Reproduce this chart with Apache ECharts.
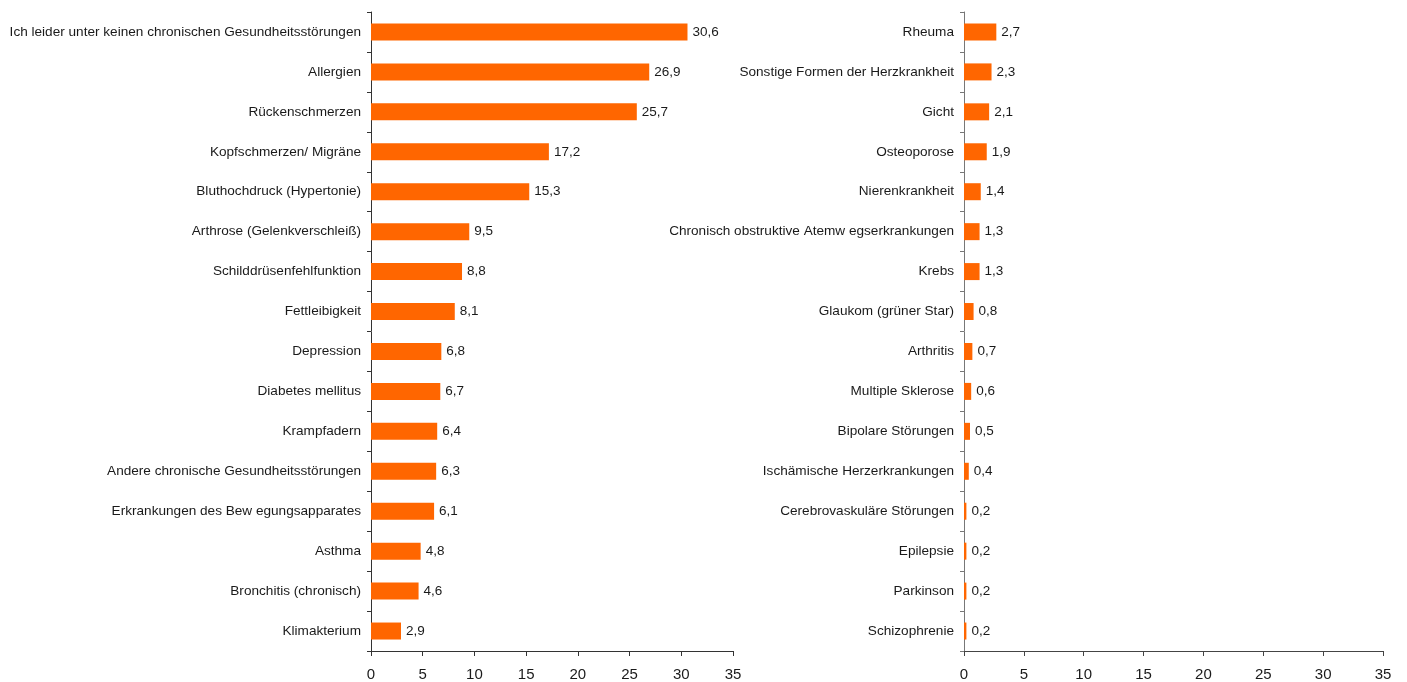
<!DOCTYPE html>
<html>
<head>
<meta charset="utf-8">
<script src="https://cdn.jsdelivr.net/npm/echarts@6/dist/echarts.min.js"></script>
<style>
    html, body { margin: 0; padding: 0; background: #fff; }
    #chart { width: 1407px; height: 682px; }
</style>
</head>
<body>
<div id="chart"></div>
<script>
    // linke Hälfte
    var leftNames = [
        'Ich leider unter keinen chronischen Gesundheitsstörungen',
        'Allergien',
        'Rückenschmerzen',
        'Kopfschmerzen/ Migräne',
        'Bluthochdruck (Hypertonie)',
        'Arthrose (Gelenkverschleiß)',
        'Schilddrüsenfehlfunktion',
        'Fettleibigkeit',
        'Depression',
        'Diabetes mellitus',
        'Krampfadern',
        'Andere chronische Gesundheitsstörungen',
        'Erkrankungen des Bew egungsapparates',
        'Asthma',
        'Bronchitis (chronisch)',
        'Klimakterium'
    ];
    var leftValues = [30.6, 26.9, 25.7, 17.2, 15.3, 9.5, 8.8, 8.1, 6.8, 6.7, 6.4, 6.3, 6.1, 4.8, 4.6, 2.9];

    // rechte Hälfte
    var rightNames = [
        'Rheuma',
        'Sonstige Formen der Herzkrankheit',
        'Gicht',
        'Osteoporose',
        'Nierenkrankheit',
        'Chronisch obstruktive Atemw egserkrankungen',
        'Krebs',
        'Glaukom (grüner Star)',
        'Arthritis',
        'Multiple Sklerose',
        'Bipolare Störungen',
        'Ischämische Herzerkrankungen',
        'Cerebrovaskuläre Störungen',
        'Epilepsie',
        'Parkinson',
        'Schizophrenie'
    ];
    var rightValues = [2.7, 2.3, 2.1, 1.9, 1.4, 1.3, 1.3, 0.8, 0.7, 0.6, 0.5, 0.4, 0.2, 0.2, 0.2, 0.2];

    var xTicks = [0, 5, 10, 15, 20, 25, 30, 35];

    var font = 'Liberation Sans, Arial, sans-serif';
    var textColor = '#1a1a1a';
    var barColor = '#ff6600';

    var chart = echarts.init(document.getElementById('chart'));

    var makeX = function (idx, axisColor) {
        return {
            type: 'value',
            gridIndex: idx,
            min: xTicks[0],
            max: xTicks[xTicks.length - 1],
            interval: 5,
            splitLine: { show: false },
            axisLine: { show: true, lineStyle: { color: axisColor, width: 1 } },
            axisTick: { show: true, length: 5, lineStyle: { color: axisColor } },
            axisLabel: { color: textColor, fontSize: 15, fontFamily: font, margin: 16 }
        };
    };
    var makeY = function (idx, names, axisColor) {
        return {
            type: 'category',
            gridIndex: idx,
            data: names,
            inverse: true,
            axisLine: { show: true, lineStyle: { color: axisColor, width: 1 } },
            axisTick: { show: true, length: 4, lineStyle: { color: axisColor } },
            axisLabel: { color: textColor, fontSize: 13.6, fontFamily: font, margin: 10 }
        };
    };
    var makeSeries = function (idx, values) {
        return {
            type: 'bar',
            xAxisIndex: idx,
            yAxisIndex: idx,
            data: values,
            barWidth: 17,
            itemStyle: { color: barColor },
            label: {
                show: true,
                position: 'right',
                distance: 5,
                color: textColor,
                fontSize: 13.5,
                fontFamily: font,
                formatter: function (p) {
                    return p.value.toFixed(1).replace('.', ',');
                }
            }
        };
    };

    var option = {
        animation: false,
        grid: [
            { left: 371, top: 12, width: 362, height: 639 },
            { left: 964, top: 12, width: 419, height: 639 }
        ],
        xAxis: [makeX(0, '#333'), makeX(1, '#444')],
        yAxis: [makeY(0, leftNames, '#333'), makeY(1, rightNames, '#777')],
        series: [makeSeries(0, leftValues), makeSeries(1, rightValues)]
    };

    chart.setOption(option);
</script>
</body>
</html>
